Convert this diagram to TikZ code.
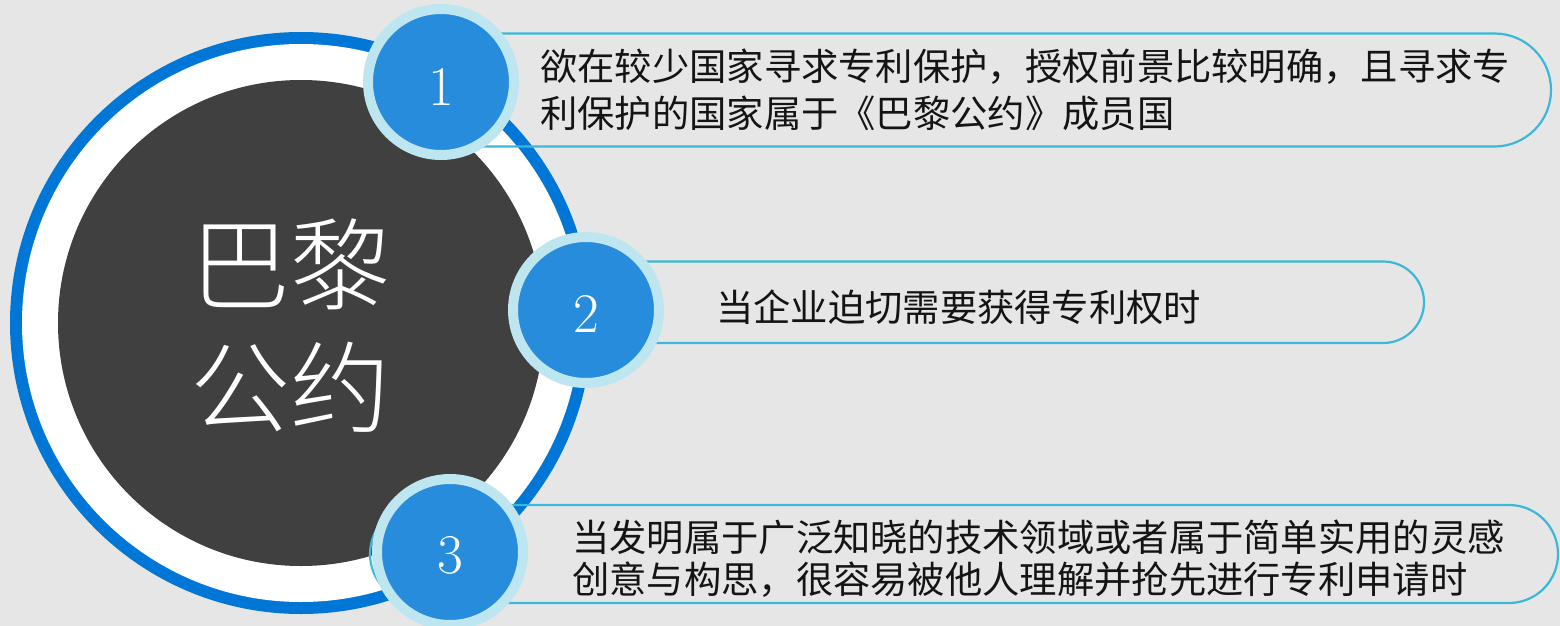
\documentclass[tikz,border=0pt]{standalone}
\usepackage{fontspec}
\newfontfamily\cjk{Noto Sans CJK SC}
\newfontfamily\cjklight{Noto Sans CJK SC Light}
\usepackage{xcolor}
\definecolor{bgGray}{RGB}{230,230,230}
\definecolor{ringBlue}{RGB}{0,118,214}
\definecolor{coreGray}{RGB}{64,64,64}
\definecolor{numBlue}{RGB}{40,140,220}
\definecolor{numRing}{RGB}{189,230,240}
\definecolor{pillLine}{RGB}{59,184,216}
\definecolor{itemInk}{RGB}{20,20,20}

\begin{document}
\begin{tikzpicture}[x=1pt, y=-1pt,
  numdisc/.style={circle, fill=numBlue, draw=numRing, line width=10pt, minimum size=146pt, inner sep=0pt},
  numdigit/.style={text=white, inner sep=0pt, font=\fontsize{56}{56}\selectfont},
  pill/.style={draw=pillLine, line width=2.2pt, inner sep=0pt},
  itemtext/.style={anchor=west, align=left, inner sep=0pt, text=itemInk}]

% Canvas
\useasboundingbox (0,0) rectangle (1560,626);
\fill[bgGray] (0,0) rectangle (1560,626);

% Central disc
\fill[ringBlue] (301,323) circle[radius=291];
\fill[white] (301,323) circle[radius=279];
\fill[coreGray] (301,323) circle[radius=243];
\node[text=white, align=center, inner sep=0pt, font=\cjklight\fontsize{100}{123}\selectfont] (core) at (290,326) {巴黎\\公约};

% Item outlines
\node[pill, rounded corners=56.5pt, minimum width=1147.5pt, minimum height=113pt] (p1) at (977.25,90) {};
\node[pill, rounded corners=40.75pt, minimum width=864.5pt, minimum height=81.5pt] (p2) at (991.75,302.25) {};
\node[pill, rounded corners=49pt, minimum width=1188pt, minimum height=98pt] (p3) at (964,554) {};

% Item texts
\node[itemtext, font=\cjk\fontsize{37.3}{47}\selectfont] (t1) at (540,89.5) {欲在较少国家寻求专利保护，授权前景比较明确，且寻求专\\利保护的国家属于《巴黎公约》成员国};
\node[itemtext, font=\cjk\fontsize{37.3}{47}\selectfont] (t2) at (716,307) {当企业迫切需要获得专利权时};
\node[itemtext, font=\cjk\fontsize{37.3}{42}\selectfont] (t3) at (572,559) {当发明属于广泛知晓的技术领域或者属于简单实用的灵感\\创意与构思，很容易被他人理解并抢先进行专利申请时};

% Numbered discs
\node[numdisc] (n1) at (441,82) {};
\node[numdisc] (n2) at (586,310) {};
\node[numdisc] (n3) at (450,552) {};
\node[numdigit] at ([yshift=-5pt]n1.center) {1};
\node[numdigit] at ([yshift=-4pt]n2.center) {2};
\node[numdigit] at ([yshift=-3pt]n3.center) {3};

\end{tikzpicture}
\end{document}
